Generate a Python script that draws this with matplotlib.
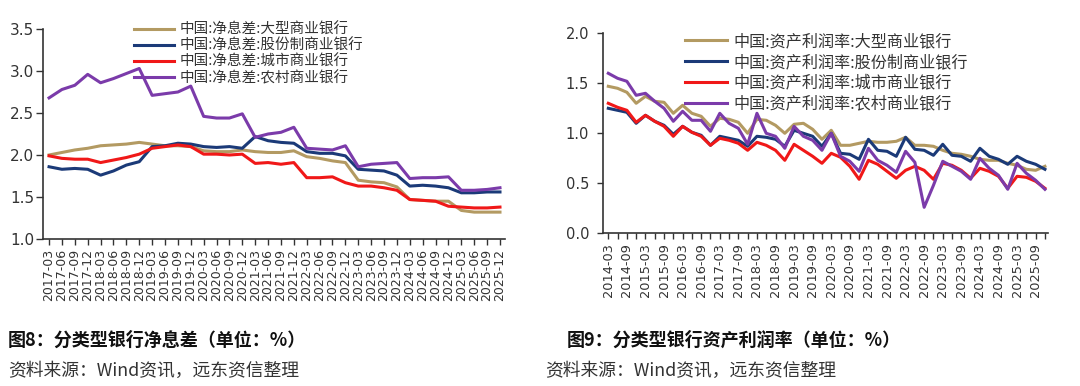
import matplotlib
matplotlib.use("Agg")
import matplotlib.pyplot as plt

plt.rcParams['font.family'] = ['Noto Sans CJK SC', 'DejaVu Sans']

# ---------------- data: net interest margin (left) ----------------
nim_quarters = [f"{y}-{m}" for y in range(2017, 2026) for m in ("03", "06", "09", "12")]
nim_large = [2.00, 2.03, 2.06, 2.08, 2.11, 2.12, 2.13, 2.15, 2.13, 2.11, 2.11, 2.10,
             2.05, 2.04, 2.04, 2.06, 2.04, 2.03, 2.03, 2.05, 1.98, 1.96, 1.93, 1.91,
             1.70, 1.68, 1.67, 1.62, 1.47, 1.46, 1.45, 1.45, 1.34, 1.32, 1.32, 1.32]
nim_joint = [1.86, 1.83, 1.84, 1.83, 1.76, 1.81, 1.88, 1.92, 2.10, 2.11, 2.14, 2.13,
             2.10, 2.09, 2.10, 2.08, 2.22, 2.17, 2.15, 2.14, 2.04, 2.02, 2.02, 1.99,
             1.83, 1.82, 1.81, 1.76, 1.63, 1.64, 1.63, 1.61, 1.55, 1.55, 1.56, 1.56]
nim_city = [1.99, 1.96, 1.95, 1.95, 1.91, 1.94, 1.97, 2.01, 2.08, 2.10, 2.12, 2.10,
            2.01, 2.01, 2.00, 2.01, 1.90, 1.91, 1.89, 1.91, 1.73, 1.73, 1.74, 1.67,
            1.63, 1.63, 1.61, 1.58, 1.47, 1.46, 1.45, 1.39, 1.38, 1.37, 1.37, 1.38]
nim_rural = [2.68, 2.78, 2.83, 2.96, 2.86, 2.91, 2.97, 3.03, 2.71, 2.73, 2.75, 2.82,
             2.46, 2.44, 2.44, 2.49, 2.21, 2.25, 2.27, 2.33, 2.08, 2.07, 2.06, 2.11,
             1.86, 1.89, 1.90, 1.91, 1.72, 1.73, 1.73, 1.74, 1.58, 1.58, 1.59, 1.61]
nim_labels = ["中国:净息差:大型商业银行", "中国:净息差:股份制商业银行",
              "中国:净息差:城市商业银行", "中国:净息差:农村商业银行"]

# ---------------- data: return on assets (right) ----------------
roa_quarters = [f"{y}-{m}" for y in range(2014, 2026) for m in ("03", "06", "09", "12")]
roa_large = [1.47, 1.45, 1.41, 1.30, 1.37, 1.32, 1.31, 1.20, 1.28, 1.20, 1.17, 1.07,
             1.15, 1.14, 1.11, 1.00, 1.14, 1.13, 1.08, 1.00, 1.09, 1.10, 1.04, 0.94,
             1.03, 0.88, 0.88, 0.90, 0.92, 0.91, 0.91, 0.92, 0.96, 0.88, 0.88, 0.87,
             0.83, 0.80, 0.79, 0.77, 0.74, 0.73, 0.73, 0.70, 0.68, 0.64, 0.63, 0.67]
roa_joint = [1.25, 1.23, 1.21, 1.10, 1.18, 1.12, 1.08, 0.99, 1.07, 1.01, 0.98, 0.88,
             0.97, 0.95, 0.93, 0.87, 0.97, 0.96, 0.94, 0.87, 1.03, 1.00, 0.97, 0.87,
             1.00, 0.80, 0.79, 0.74, 0.94, 0.83, 0.82, 0.77, 0.96, 0.84, 0.83, 0.78,
             0.89, 0.78, 0.77, 0.72, 0.85, 0.77, 0.74, 0.69, 0.77, 0.72, 0.69, 0.64]
roa_city = [1.30, 1.26, 1.23, 1.11, 1.18, 1.12, 1.07, 0.97, 1.07, 1.01, 0.97, 0.88,
            0.95, 0.93, 0.90, 0.83, 0.91, 0.88, 0.83, 0.73, 0.89, 0.83, 0.77, 0.70,
            0.80, 0.76, 0.67, 0.54, 0.73, 0.69, 0.62, 0.55, 0.63, 0.67, 0.63, 0.54,
            0.70, 0.68, 0.63, 0.55, 0.65, 0.62, 0.57, 0.45, 0.57, 0.56, 0.52, 0.45]
roa_rural = [1.60, 1.55, 1.52, 1.38, 1.40, 1.32, 1.25, 1.12, 1.22, 1.13, 1.13, 1.02,
             1.20, 1.10, 1.05, 0.89, 1.20, 1.00, 0.97, 0.85, 1.07, 0.97, 0.93, 0.83,
             1.00, 0.77, 0.72, 0.62, 0.85, 0.73, 0.68, 0.61, 0.82, 0.71, 0.26, 0.48,
             0.72, 0.67, 0.62, 0.54, 0.75, 0.65, 0.58, 0.44, 0.70, 0.60, 0.53, 0.44]
roa_labels = ["中国:资产利润率:大型商业银行", "中国:资产利润率:股份制商业银行",
              "中国:资产利润率:城市商业银行", "中国:资产利润率:农村商业银行"]

nim_yticks = [1.0, 1.5, 2.0, 2.5, 3.0, 3.5]
roa_yticks = [0.0, 0.5, 1.0, 1.5, 2.0]

colors = ["#B39A62", "#1B3A78", "#F01818", "#7B3BAA"]

W, H = 1080, 386
fig = plt.figure(figsize=(W / 100, H / 100), dpi=100)
spine_c = "#333333"


def style_axes(ax):
    for s in ("top", "right"):
        ax.spines[s].set_visible(False)
    for s in ("left", "bottom"):
        ax.spines[s].set_color(spine_c)
        ax.spines[s].set_linewidth(1.2)
    ax.tick_params(axis="both", direction="out", color=spine_c, width=1.0,
                   labelcolor="#333333")
    ax.tick_params(axis="x", length=4, pad=3)


# ---------------- left chart ----------------
ax1 = fig.add_axes([43 / W, 1 - 239 / H, 462 / W, 210 / H])
x1 = list(range(len(nim_quarters)))
for series, c, lab in zip([nim_large, nim_joint, nim_city, nim_rural], colors, nim_labels):
    ax1.plot(x1, series, color=c, lw=2.2, label=lab, solid_joinstyle="round")
ax1.set_xlim(-0.47, len(nim_quarters) - 1 + 0.39)
ax1.set_ylim(1.0, 3.5)
ax1.set_yticks(nim_yticks)
ax1.set_yticklabels([f"{v:.1f}" for v in nim_yticks], fontsize=11, family="DejaVu Sans")
ax1.set_xticks(x1)
ax1.set_xticklabels(nim_quarters, rotation=90, fontsize=9, family="DejaVu Sans")
style_axes(ax1)
ax1.tick_params(axis="y", length=5, pad=1.5)
leg1 = ax1.legend(loc="upper left", bbox_to_anchor=(134 / W, 1 - 23 / H),
                  bbox_transform=fig.transFigure, frameon=False, fontsize=10.5,
                  handlelength=2.75, handletextpad=0.4, labelspacing=0.12,
                  borderpad=0, borderaxespad=0)
for t in leg1.get_texts():
    t.set_color("#333333")

# ---------------- right chart ----------------
ax2 = fig.add_axes([603 / W, 1 - 233.3 / H, 445 / W, 200 / H])
x2 = list(range(len(roa_quarters)))
for series, c, lab in zip([roa_large, roa_joint, roa_city, roa_rural], colors, roa_labels):
    ax2.plot(x2, series, color=c, lw=2.2, label=lab, solid_joinstyle="round")
ax2.set_xlim(-0.57, len(roa_quarters) - 1 + 0.33)
ax2.set_ylim(0.0, 2.0)
ax2.set_yticks(roa_yticks)
ax2.set_yticklabels([f"{v:.1f}" for v in roa_yticks], fontsize=10.5, family="DejaVu Sans")
ax2.set_xticks(x2)
ax2.set_xticklabels([q if i % 2 == 0 else "" for i, q in enumerate(roa_quarters)],
                    rotation=90, fontsize=9.3, family="DejaVu Sans")
style_axes(ax2)
ax2.tick_params(axis="y", length=4, pad=6)
leg2 = ax2.legend(loc="upper left", bbox_to_anchor=(685 / W, 1 - 33 / H),
                  bbox_transform=fig.transFigure, frameon=False, fontsize=11.6,
                  handlelength=2.6, handletextpad=0.4, labelspacing=0.24,
                  borderpad=0, borderaxespad=0)
for t in leg2.get_texts():
    t.set_color("#333333")

# ---------------- captions ----------------
fig.text(8 / W, 1 - 340 / H, "图8：分类型银行净息差（单位：%）", fontsize=13,
         fontweight="bold", va="center", ha="left", color="#111111")
fig.text(8 / W, 1 - 371 / H, "资料来源：Wind资讯，远东资信整理", fontsize=12.8,
         va="center", ha="left", color="#333333")
fig.text(567 / W, 1 - 340 / H, "图9：分类型银行资产利润率（单位：%）", fontsize=13,
         fontweight="bold", va="center", ha="left", color="#111111")
fig.text(545 / W, 1 - 371 / H, "资料来源：Wind资讯，远东资信整理", fontsize=12.8,
         va="center", ha="left", color="#333333")

fig.savefig("out.png", dpi=100, facecolor="white")
